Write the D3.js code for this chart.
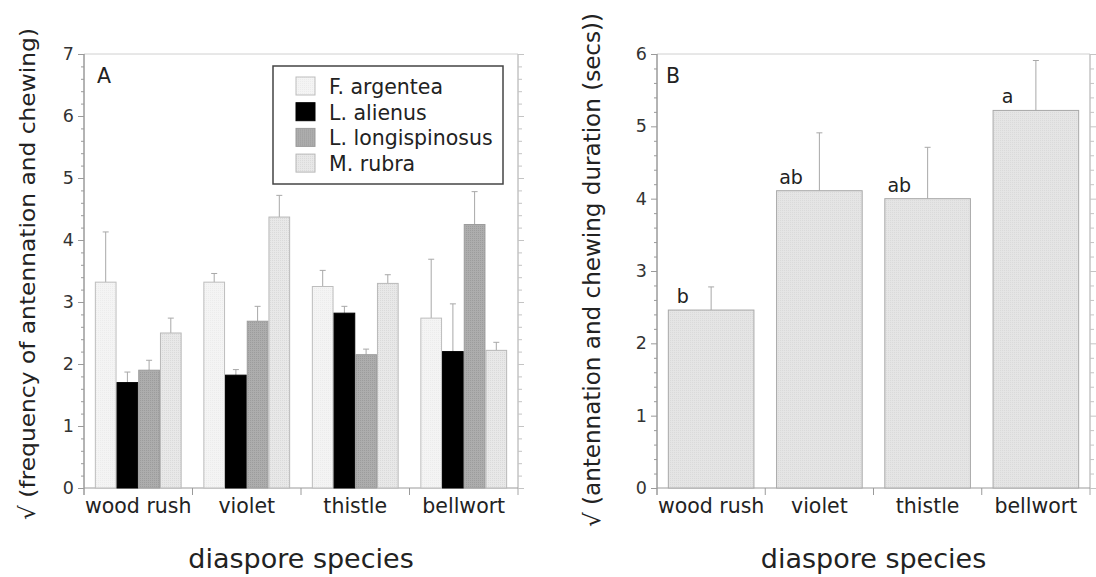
<!DOCTYPE html>
<html>
<head>
<meta charset="utf-8">
<script src="https://cdn.jsdelivr.net/npm/d3@7"></script>
<style>
  body { margin: 0; background: #fff; }
  svg { display: block; font-family: "DejaVu Sans", sans-serif; }
</style>
</head>
<body>
<div id="chart"></div>
<script>
// Diaspore species on the x axis, same for both panels
const categories = ['wood rush', 'violet', 'thistle', 'bellwort'];

// Panel A: sqrt(frequency of antennation and chewing), by ant species
const antSpecies = ['F. argentea', 'L. alienus', 'L. longispinosus', 'M. rubra'];
const fArgentea = [3.32, 3.32, 3.25, 2.74];
const fArgenteaSE = [0.81, 0.14, 0.26, 0.95];
const lAlienus = [1.70, 1.82, 2.82, 2.20];
const lAlienusSE = [0.17, 0.09, 0.11, 0.77];
const lLongispinosus = [1.90, 2.69, 2.15, 4.25];
const lLongispinosusSE = [0.16, 0.24, 0.09, 0.53];
const mRubra = [2.50, 4.37, 3.30, 2.22];
const mRubraSE = [0.24, 0.35, 0.14, 0.13];

// Panel B: sqrt(antennation and chewing duration (secs))
const duration = [2.46, 4.11, 4.00, 5.22];
const durationSE = [0.32, 0.80, 0.71, 0.69];
const durationLetters = ['b', 'ab', 'ab', 'a'];

const yTicksA = [0, 1, 2, 3, 4, 5, 6, 7];
const yTicksB = [0, 1, 2, 3, 4, 5, 6];

const width = 1096, height = 577;
const plotTop = 54, plotBottom = 488;
const fontFamily = '"DejaVu Sans", sans-serif';

const svg = d3.select('#chart').append('svg')
  .attr('width', width)
  .attr('height', height);

// fill textures (fine stipple like the original print)
const defs = svg.append('defs');
function stipple(id, bg, dot) {
  const p = defs.append('pattern')
    .attr('id', id)
    .attr('width', 2).attr('height', 2)
    .attr('patternUnits', 'userSpaceOnUse');
  p.append('rect').attr('width', 2).attr('height', 2).attr('fill', bg);
  p.append('rect').attr('width', 1).attr('height', 1).attr('fill', dot);
}
stipple('dotsLong', '#adadad', '#9c9c9c');
stipple('dotsRubra', '#e8e8e8', '#dadada');
stipple('dotsArg', '#f4f4f4', '#ececec');
stipple('dotsB', '#e5e5e5', '#dadada');

const speciesStyle = {
  'F. argentea': { fill: 'url(#dotsArg)', stroke: '#bdbdbd' },
  'L. alienus': { fill: '#000', stroke: '#000' },
  'L. longispinosus': { fill: 'url(#dotsLong)', stroke: '#9c9c9c' },
  'M. rubra': { fill: 'url(#dotsRubra)', stroke: '#b8b8b8' }
};

const axisColor = '#9a9a9a';
const textColor = '#222';

function drawFrame(g, x0, y, yMax, majorTicks) {
  const [left, right] = x0.range();

  // top border
  g.append('line')
    .attr('x1', left).attr('x2', right)
    .attr('y1', y(yMax)).attr('y2', y(yMax))
    .attr('stroke', '#d0d0d0');

  const minor = d3.range(0, yMax + 0.001, 0.2).filter(v => Math.abs(v - Math.round(v)) > 0.01);

  // left axis: major + minor ticks
  const leftAxis = g.append('g').attr('transform', `translate(${left},0)`);
  leftAxis.call(d3.axisLeft(y).tickValues(majorTicks).tickSize(6).tickPadding(4).tickFormat(d3.format('d')));
  leftAxis.append('g').call(d3.axisLeft(y).tickValues(minor).tickSize(3).tickFormat(''));
  leftAxis.selectAll('path').attr('stroke', axisColor);
  leftAxis.selectAll('line').attr('stroke', axisColor);
  leftAxis.selectAll('.domain').attr('d', `M0,${y(yMax)}V${plotBottom + 7}`);
  leftAxis.selectAll('text')
    .attr('fill', '#333')
    .style('font-family', fontFamily)
    .style('font-size', '17.5px');

  // right border with ticks
  const rightAxis = g.append('g').attr('transform', `translate(${right},0)`);
  rightAxis.call(d3.axisRight(y).tickValues(majorTicks).tickSize(6).tickFormat(''));
  rightAxis.append('g').call(d3.axisRight(y).tickValues(minor).tickSize(4).tickFormat(''));
  rightAxis.selectAll('path').attr('stroke', '#c4c4c4');
  rightAxis.selectAll('line').attr('stroke', '#c4c4c4');
  rightAxis.selectAll('.domain').attr('d', `M0,${y(yMax)}V${plotBottom + 7}`);

  // bottom axis line and category dividers
  g.append('line')
    .attr('x1', left).attr('x2', right)
    .attr('y1', plotBottom).attr('y2', plotBottom)
    .attr('stroke', axisColor);

  g.selectAll('line.divider')
    .data(categories.slice(1))
    .enter().append('line')
    .attr('class', 'divider')
    .attr('x1', d => x0(d)).attr('x2', d => x0(d))
    .attr('y1', plotBottom).attr('y2', plotBottom + 7)
    .attr('stroke', axisColor);

  g.selectAll('text.cat')
    .data(categories)
    .enter().append('text')
    .attr('class', 'cat')
    .attr('x', d => x0(d) + x0.bandwidth() / 2)
    .attr('y', 513)
    .attr('text-anchor', 'middle')
    .attr('fill', textColor)
    .style('font-size', '20.5px')
    .text(d => d);

  g.append('text')
    .attr('x', (left + right) / 2)
    .attr('y', 568)
    .attr('text-anchor', 'middle')
    .attr('fill', textColor)
    .style('font-size', '27px')
    .text('diaspore species');
}

function errorBar(g, cx, yMean, yTop) {
  g.append('line')
    .attr('x1', cx).attr('x2', cx)
    .attr('y1', yMean).attr('y2', yTop)
    .attr('stroke', '#a8a8a8');
  g.append('line')
    .attr('x1', cx - 3).attr('x2', cx + 3)
    .attr('y1', yTop).attr('y2', yTop)
    .attr('stroke', '#a8a8a8');
}

// ---------- Panel A ----------
{
  const g = svg.append('g');
  const x0 = d3.scaleBand().domain(categories).range([84, 518]);
  const x1 = d3.scaleBand().domain(antSpecies)
    .range([x0.bandwidth() * 0.1, x0.bandwidth() * 0.9]);
  const y = d3.scaleLinear().domain([0, 7]).range([plotBottom, plotTop]);

  drawFrame(g, x0, y, 7, yTicksA);

  const series = [
    { name: 'F. argentea', values: fArgentea, se: fArgenteaSE },
    { name: 'L. alienus', values: lAlienus, se: lAlienusSE },
    { name: 'L. longispinosus', values: lLongispinosus, se: lLongispinosusSE },
    { name: 'M. rubra', values: mRubra, se: mRubraSE }
  ];

  const bars = g.append('g');
  series.forEach(s => {
    s.values.forEach((v, i) => {
      const bx = x0(categories[i]) + x1(s.name);
      const bw = x1.bandwidth();
      errorBar(bars, bx + bw / 2, y(v), y(v + s.se[i]));
      bars.append('rect')
        .attr('x', bx + 0.5)
        .attr('y', y(v))
        .attr('width', bw - 1)
        .attr('height', y(0) - y(v))
        .attr('fill', speciesStyle[s.name].fill)
        .attr('stroke', speciesStyle[s.name].stroke)
        .attr('stroke-width', 1);
    });
  });

  g.append('text')
    .attr('x', 97).attr('y', 83)
    .attr('fill', textColor)
    .style('font-size', '20.5px')
    .text('A');

  // legend
  const legend = g.append('g').attr('transform', 'translate(273,66)');
  legend.append('rect')
    .attr('width', 230).attr('height', 118)
    .attr('fill', '#fff')
    .attr('stroke', '#444')
    .attr('stroke-width', 1.5);
  const item = legend.selectAll('g.item')
    .data(antSpecies)
    .enter().append('g')
    .attr('class', 'item')
    .attr('transform', (d, i) => `translate(23,${11 + i * 25.7})`);
  item.append('rect')
    .attr('width', 19).attr('height', 18)
    .attr('fill', d => speciesStyle[d].fill)
    .attr('stroke', d => speciesStyle[d].stroke);
  item.append('text')
    .attr('x', 33).attr('y', 17)
    .attr('fill', textColor)
    .style('font-size', '20.5px')
    .text(d => d);

  g.append('text')
    .attr('transform', `translate(35,${(plotTop + plotBottom) / 2 + 3}) rotate(-90)`)
    .attr('text-anchor', 'middle')
    .attr('fill', textColor)
    .style('font-size', '22px')
    .attr('textLength', 492)
    .attr('lengthAdjust', 'spacingAndGlyphs')
    .text('√ (frequency of antennation and chewing)');
}

// ---------- Panel B ----------
{
  const g = svg.append('g');
  const x0 = d3.scaleBand().domain(categories).range([657, 1090]);
  const y = d3.scaleLinear().domain([0, 6]).range([plotBottom, plotTop]);

  drawFrame(g, x0, y, 6, yTicksB);

  const bars = g.append('g');
  duration.forEach((v, i) => {
    const bx = x0(categories[i]) + x0.bandwidth() * 0.1;
    const bw = x0.bandwidth() * 0.8;
    errorBar(bars, bx + bw / 2, y(v), y(v + durationSE[i]));
    bars.append('rect')
      .attr('x', bx + 0.5)
      .attr('y', y(v))
      .attr('width', bw - 1)
      .attr('height', y(0) - y(v))
      .attr('fill', 'url(#dotsB)')
      .attr('stroke', '#a8a8a8');
    bars.append('text')
      .attr('x', bx + 15)
      .attr('y', y(v) - 7)
      .attr('text-anchor', 'middle')
      .attr('fill', textColor)
      .style('font-size', '19px')
      .text(durationLetters[i]);
  });

  g.append('text')
    .attr('x', 666).attr('y', 83)
    .attr('fill', textColor)
    .style('font-size', '20.5px')
    .text('B');

  g.append('text')
    .attr('transform', `translate(600,${(plotTop + plotBottom) / 2 - 1}) rotate(-90)`)
    .attr('text-anchor', 'middle')
    .attr('fill', textColor)
    .style('font-size', '22.5px')
    .attr('textLength', 514)
    .attr('lengthAdjust', 'spacingAndGlyphs')
    .text('√ (antennation and chewing duration (secs))');
}
</script>
</body>
</html>
